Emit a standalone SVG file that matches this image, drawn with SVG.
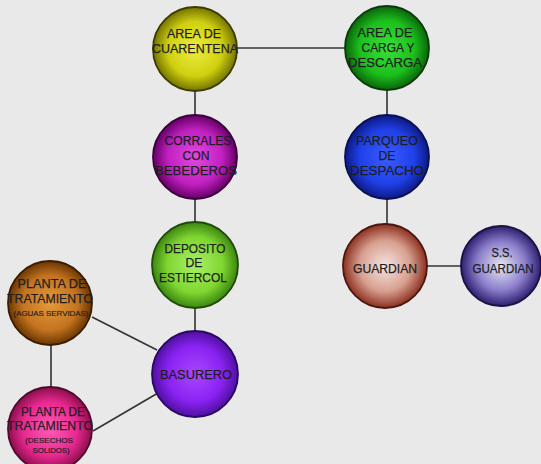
<svg xmlns="http://www.w3.org/2000/svg" width="541" height="464" viewBox="0 0 541 464">
<style>
.n{stroke-width:1.8}
.t{font-family:"Liberation Sans",Arial,sans-serif;font-size:12.5px;fill:#1e1e1e;stroke:#1e1e1e;stroke-width:0.25;text-anchor:middle}
.s{font-family:"Liberation Sans",Arial,sans-serif;font-size:7px;fill:#1e1e1e;stroke:#1e1e1e;stroke-width:0.15;text-anchor:middle}
.c{stroke:#333;stroke-width:1.6;fill:none}
</style>
<defs>
<radialGradient id="gY" cx="50%" cy="50%" r="50%"><stop offset="0" stop-color="#eded40"/><stop offset="0.65" stop-color="#d0d010"/><stop offset="1" stop-color="#737300"/></radialGradient>
<radialGradient id="gG" cx="50%" cy="50%" r="50%"><stop offset="0" stop-color="#3ae03a"/><stop offset="0.65" stop-color="#1cc01c"/><stop offset="1" stop-color="#0a650a"/></radialGradient>
<radialGradient id="gM" cx="50%" cy="50%" r="50%"><stop offset="0" stop-color="#e24ae2"/><stop offset="0.65" stop-color="#c020c0"/><stop offset="1" stop-color="#650065"/></radialGradient>
<radialGradient id="gB" cx="50%" cy="50%" r="50%"><stop offset="0" stop-color="#3a5cff"/><stop offset="0.65" stop-color="#2040e8"/><stop offset="1" stop-color="#0c1a85"/></radialGradient>
<radialGradient id="gL" cx="50%" cy="50%" r="50%"><stop offset="0" stop-color="#a8f068"/><stop offset="0.65" stop-color="#80d630"/><stop offset="1" stop-color="#3a8510"/></radialGradient>
<radialGradient id="gR" cx="50%" cy="50%" r="50%"><stop offset="0" stop-color="#f2e6e2"/><stop offset="0.6" stop-color="#d8a090"/><stop offset="1" stop-color="#8c3020"/></radialGradient>
<radialGradient id="gS" cx="50%" cy="50%" r="50%"><stop offset="0" stop-color="#e6e6f4"/><stop offset="0.6" stop-color="#8c80cc"/><stop offset="1" stop-color="#2e1e70"/></radialGradient>
<radialGradient id="gO" cx="50%" cy="50%" r="50%"><stop offset="0" stop-color="#e49a3a"/><stop offset="0.65" stop-color="#c47420"/><stop offset="1" stop-color="#6a3600"/></radialGradient>
<radialGradient id="gP" cx="50%" cy="50%" r="50%"><stop offset="0" stop-color="#a848ff"/><stop offset="0.65" stop-color="#8a22f2"/><stop offset="1" stop-color="#4e10a0"/></radialGradient>
<radialGradient id="gK" cx="50%" cy="50%" r="50%"><stop offset="0" stop-color="#ff5cb6"/><stop offset="0.65" stop-color="#e82890"/><stop offset="1" stop-color="#8c0e4c"/></radialGradient>
</defs>
<rect width="541" height="464" fill="#e9e9e9"/>
<g id="connectors">
<line class="c" x1="236" y1="48" x2="345" y2="48"/>
<line class="c" x1="195" y1="90" x2="195" y2="115"/>
<line class="c" x1="195" y1="199" x2="195" y2="222"/>
<line class="c" x1="195" y1="308" x2="195" y2="332"/>
<line class="c" x1="387" y1="90" x2="387" y2="115"/>
<line class="c" x1="387" y1="199" x2="387" y2="225"/>
<line class="c" x1="427" y1="266" x2="462" y2="266"/>
<line class="c" x1="92" y1="317" x2="157" y2="350"/>
<line class="c" x1="51" y1="345" x2="51" y2="388"/>
<line class="c" x1="93" y1="431" x2="158" y2="393"/>
</g>
<g id="cuarentena">
<circle class="n" cx="195" cy="49" r="42" fill="url(#gY)" stroke="#3c3c00"/>
<text class="t" x="194" y="38" textLength="54" lengthAdjust="spacingAndGlyphs">AREA DE</text>
<text class="t" x="195" y="53" textLength="86" lengthAdjust="spacingAndGlyphs">CUARENTENA</text>
</g>
<g id="carga">
<circle class="n" cx="387" cy="48" r="42" fill="url(#gG)" stroke="#0a3a0a"/>
<text class="t" x="385" y="37" textLength="55" lengthAdjust="spacingAndGlyphs">AREA DE</text>
<text class="t" x="388" y="52" textLength="53" lengthAdjust="spacingAndGlyphs">CARGA Y</text>
<text class="t" x="385" y="67" textLength="74" lengthAdjust="spacingAndGlyphs">DESCARGA</text>
</g>
<g id="corrales">
<circle class="n" cx="195" cy="157" r="42" fill="url(#gM)" stroke="#3a003a"/>
<text class="t" x="198" y="145" textLength="67" lengthAdjust="spacingAndGlyphs">CORRALES</text>
<text class="t" x="196" y="160" textLength="27" lengthAdjust="spacingAndGlyphs">CON</text>
<text class="t" x="196" y="175" textLength="82" lengthAdjust="spacingAndGlyphs">BEBEDEROS</text>
</g>
<g id="parqueo">
<circle class="n" cx="387" cy="157" r="42" fill="url(#gB)" stroke="#081050"/>
<text class="t" x="387" y="145" textLength="62" lengthAdjust="spacingAndGlyphs">PARQUEO</text>
<text class="t" x="387" y="160" textLength="17" lengthAdjust="spacingAndGlyphs">DE</text>
<text class="t" x="387" y="175" textLength="74" lengthAdjust="spacingAndGlyphs">DESPACHO</text>
</g>
<g id="deposito">
<circle class="n" cx="195" cy="265" r="43" fill="url(#gL)" stroke="#204a08"/>
<text class="t" x="195" y="253" textLength="61" lengthAdjust="spacingAndGlyphs">DEPOSITO</text>
<text class="t" x="194" y="267" textLength="17" lengthAdjust="spacingAndGlyphs">DE</text>
<text class="t" x="193" y="282" textLength="68" lengthAdjust="spacingAndGlyphs">ESTIERCOL</text>
</g>
<g id="guardian">
<circle class="n" cx="385" cy="266" r="42" fill="url(#gR)" stroke="#4a1810"/>
<text class="t" x="385" y="273" textLength="64" lengthAdjust="spacingAndGlyphs">GUARDIAN</text>
</g>
<g id="ss-guardian">
<circle class="n" cx="501" cy="266" r="40" fill="url(#gS)" stroke="#1c1240"/>
<text class="t" x="502" y="257" textLength="21" lengthAdjust="spacingAndGlyphs">S.S.</text>
<text class="t" x="503" y="273" textLength="61" lengthAdjust="spacingAndGlyphs">GUARDIAN</text>
</g>
<g id="planta-aguas">
<circle class="n" cx="50" cy="303" r="42" fill="url(#gO)" stroke="#3a1c00"/>
<text class="t" x="52" y="288" textLength="69" lengthAdjust="spacingAndGlyphs">PLANTA DE</text>
<text class="t" x="50" y="303" textLength="86" lengthAdjust="spacingAndGlyphs">TRATAMIENTO</text>
<text class="s" x="51" y="316" textLength="75" lengthAdjust="spacingAndGlyphs">(AGUAS SERVIDAS)</text>
</g>
<g id="basurero">
<circle class="n" cx="195" cy="374" r="43" fill="url(#gP)" stroke="#2a0860"/>
<text class="t" x="196" y="379" textLength="72" lengthAdjust="spacingAndGlyphs">BASURERO</text>
</g>
<g id="planta-desechos">
<circle class="n" cx="50" cy="429" r="42" fill="url(#gK)" stroke="#4e0a2c"/>
<text class="t" x="53" y="416" textLength="64" lengthAdjust="spacingAndGlyphs">PLANTA DE</text>
<text class="t" x="50" y="430" textLength="86" lengthAdjust="spacingAndGlyphs">TRATAMIENTO</text>
<text class="s" x="49" y="443" textLength="48" lengthAdjust="spacingAndGlyphs">(DESECHOS</text>
<text class="s" x="51" y="453" textLength="37" lengthAdjust="spacingAndGlyphs">SOLIDOS)</text>
</g>
</svg>
